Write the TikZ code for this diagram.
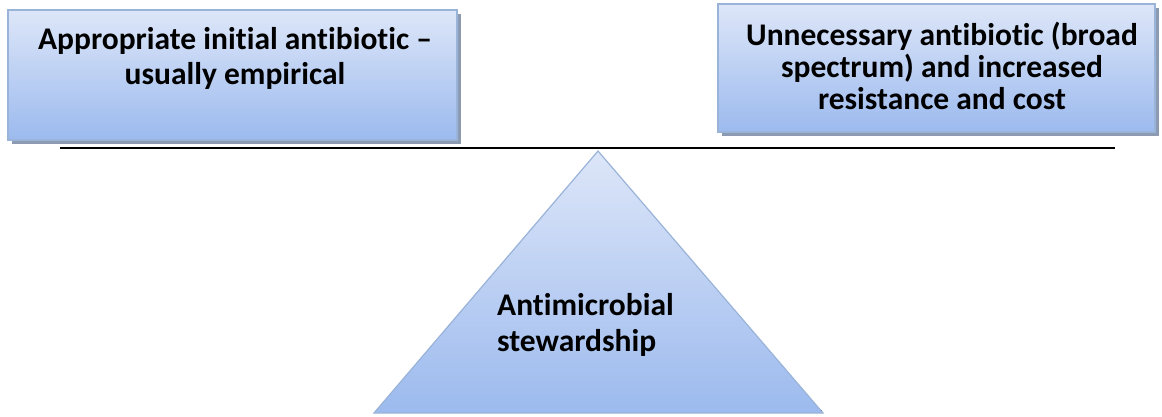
\documentclass[tikz,border=0pt]{standalone}
\usepackage{fontspec}
\setmainfont[Ligatures=NoCommon]{Carlito}
\usetikzlibrary{shadows}
\definecolor{boxTop}{HTML}{DDE6F8}
\definecolor{boxBot}{HTML}{9CBAEE}
\definecolor{boxEdge}{HTML}{9AB3D9}
\definecolor{shade}{HTML}{8C9BB2}
\tikzset{
  panel/.style={draw=boxEdge, line width=1.2pt, top color=boxTop, bottom color=boxBot,
    inner sep=0pt, outer sep=0pt,
    drop shadow={shadow xshift=4pt, shadow yshift=-4pt, fill=shade, opacity=1}},
  caption/.style={font=\bfseries\fontsize{31.5}{35}\selectfont, align=center, inner sep=0pt},
  beam/.style={line width=2.6pt, black},
  fulcrum/.style={draw=boxEdge, line width=1.2pt, top color=boxTop, bottom color=boxBot}
}
\begin{document}
\begin{tikzpicture}[x=1pt,y=-1pt]
\useasboundingbox (0,0) rectangle (1162,417);
% the two loads on the balance
\node[panel, minimum width=449pt, minimum height=130pt] (left) at (232.5,75) {};
\node[caption] (lefttext) at (235,58) {Appropriate initial antibiotic –\\usually empirical};
\node[panel, minimum width=437pt, minimum height=128pt] (right) at (936.5,68) {};
\node[caption, font=\bfseries\fontsize{31.5}{32}\selectfont] (righttext) at (942,66)
  {Unnecessary antibiotic (broad\\spectrum) and increased\\resistance and cost};
% the beam
\coordinate (beamL) at (60,148);
\coordinate (beamR) at (1115,148);
\draw[beam] (beamL) -- (beamR);
% the fulcrum
\coordinate (apex) at (598,151);
\coordinate (baseL) at (374,413);
\coordinate (baseR) at (823,413);
\draw[shade, line width=1.5pt] ([xshift=3pt,yshift=2pt]baseL) -- ([xshift=-1pt,yshift=2pt]baseR);
\draw[fulcrum] (apex) -- (baseR) -- (baseL) -- cycle;
\node[caption, align=left, font=\bfseries\fontsize{31.5}{36}\selectfont, anchor=west] (fulcrumtext) at (497,325)
  {Antimicrobial\\stewardship};
\end{tikzpicture}
\end{document}
